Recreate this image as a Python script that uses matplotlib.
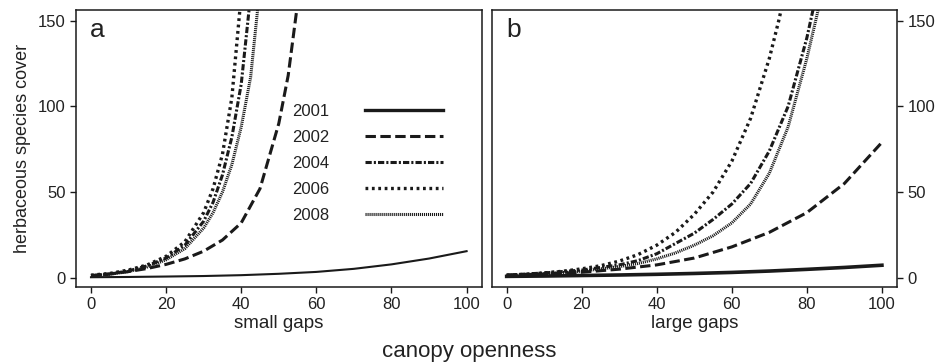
import numpy as np
import matplotlib
matplotlib.use("Agg")
import matplotlib.pyplot as plt

plt.rcParams["font.family"] = ["Liberation Sans", "DejaVu Sans"]
plt.rcParams["lines.scale_dashes"] = False

YEARS = ["2001", "2002", "2004", "2006", "2008"]

# panel a: small gaps
a_x_2001 = [0, 10, 20, 30, 40, 50, 60, 70, 80, 90, 100]
a_y_2001 = [0.3, 0.45, 0.7, 1.0, 1.5, 2.3, 3.4, 5.2, 7.8, 11.2, 15.5]
a_x_2002 = [0, 5, 10, 15, 20, 25, 30, 35, 40, 45, 50, 52.5, 55]
a_y_2002 = [1.0, 2.2, 3.6, 5.4, 7.8, 11, 15.5, 22, 32, 52, 90, 118, 160]
a_x_2004 = [0, 5, 10, 15, 20, 25, 30, 32.5, 35, 37.5, 40, 42.5]
a_y_2004 = [1.3, 2.2, 4.0, 7.0, 11.5, 19, 33, 44, 60, 82, 113, 165]
a_x_2006 = [0, 5, 10, 15, 20, 25, 30, 32.5, 35, 37.5, 40]
a_y_2006 = [1.5, 2.5, 4.5, 7.5, 12.5, 21, 38, 52, 72, 105, 165]
a_x_2008 = [0, 5, 10, 15, 20, 25, 30, 32.5, 35, 37.5, 40, 42.5, 45]
a_y_2008 = [1.2, 2.0, 3.6, 6.3, 10.5, 17, 29, 38, 50, 66, 88, 117, 170]

# panel b: large gaps
b_x_2001 = [0, 10, 20, 30, 40, 50, 60, 70, 80, 90, 100]
b_y_2001 = [0.8, 1.0, 1.3, 1.6, 2.0, 2.5, 3.1, 3.9, 4.9, 6.0, 7.3]
b_x_2002 = [0, 10, 20, 30, 40, 50, 60, 70, 80, 90, 100]
b_y_2002 = [1.5, 2.2, 3.2, 5.0, 7.5, 11.5, 18, 26.5, 38, 55, 79]
b_x_2004 = [0, 10, 20, 30, 35, 40, 45, 50, 55, 60, 65, 70, 75, 80, 82.5]
b_y_2004 = [1.5, 2.8, 4.5, 7.5, 10, 14, 20, 26, 34, 43, 55, 74, 100, 140, 165]
b_x_2006 = [0, 5, 10, 15, 20, 25, 30, 35, 40, 45, 50, 55, 60, 65, 70, 72.5, 75]
b_y_2006 = [1.5, 2, 2.8, 3.8, 5.2, 7, 9.7, 13.5, 19, 26.5, 37, 50, 68, 93, 128, 150, 175]
b_x_2008 = [0, 10, 20, 30, 35, 40, 45, 50, 55, 60, 65, 70, 75, 80, 85]
b_y_2008 = [1.3, 2.3, 3.8, 6.5, 8.3, 11, 14.5, 19, 24.5, 32, 43, 61, 88, 128, 175]

# line styles per year (dash lengths in points)
styles = {
    "2001": dict(ls="-", lw=1.5),
    "2002": dict(ls=(0, (7.5, 3.2)), lw=2.2),
    "2004": dict(ls=(0, (4.5, 1.5, 1.5, 1.5)), lw=2.2),
    "2006": dict(ls=(0, (2.0, 2.6)), lw=2.4),
    "2008": dict(ls=(0, (0.8, 0.65)), lw=2.2),
}

ink = "#1a1a1a"
txt = "#222222"

fig = plt.figure(figsize=(9.39, 3.62), dpi=100)
ax_a = fig.add_axes([0.0809, 0.2072, 0.432, 0.765])
ax_b = fig.add_axes([0.5236, 0.2072, 0.4316, 0.765])

data_a = [(a_x_2001, a_y_2001), (a_x_2002, a_y_2002), (a_x_2004, a_y_2004),
          (a_x_2006, a_y_2006), (a_x_2008, a_y_2008)]
data_b = [(b_x_2001, b_y_2001), (b_x_2002, b_y_2002), (b_x_2004, b_y_2004),
          (b_x_2006, b_y_2006), (b_x_2008, b_y_2008)]

for yr, (xs, ys) in zip(YEARS, data_a):
    st = styles[yr]
    ax_a.plot(xs, ys, color=ink, linestyle=st["ls"], lw=st["lw"],
              dash_capstyle="butt", label=yr)

for yr, (xs, ys) in zip(YEARS, data_b):
    st = styles[yr]
    lw = 2.6 if yr == "2001" else st["lw"]
    ax_b.plot(xs, ys, color=ink, linestyle=st["ls"], lw=lw,
              dash_capstyle="butt")

for ax in (ax_a, ax_b):
    ax.set_xlim(-4, 104)
    ax.set_ylim(-5.4, 156.2)
    ax.set_xticks([0, 20, 40, 60, 80, 100])
    ax.set_yticks([0, 50, 100, 150])
    ax.tick_params(direction="out", length=4, width=1.0, color=ink,
                   labelsize=12, labelcolor=txt, pad=3.5)
    for s in ax.spines.values():
        s.set_linewidth(1.1)
        s.set_color(ink)

ax_b.yaxis.tick_right()

ax_a.text(0.035, 0.9025, "a", transform=ax_a.transAxes, fontsize=19,
          color=txt, va="baseline", ha="left")
ax_b.text(0.035, 0.9025, "b", transform=ax_b.transAxes, fontsize=19,
          color=txt, va="baseline", ha="left")

leg = ax_a.legend(loc="upper left", bbox_to_anchor=(0.532, 0.662),
                  frameon=False, markerfirst=False, fontsize=12,
                  handlelength=4.67, handletextpad=2.15, labelspacing=0.67,
                  borderpad=0, borderaxespad=0)
for t in leg.get_texts():
    t.set_color(txt)
leg.legend_handles[0].set_linewidth(2.4)

ax_a.set_ylabel("herbaceous species cover", fontsize=13, color=txt, labelpad=5)
ax_a.set_xlabel("small gaps", fontsize=13.5, color=txt, labelpad=2)
ax_b.set_xlabel("large gaps", fontsize=13.5, color=txt, labelpad=2)
fig.text(0.5, 0.030, "canopy openness", ha="center", va="center",
         fontsize=16, color=txt)

fig.savefig("out.png", dpi=100)
